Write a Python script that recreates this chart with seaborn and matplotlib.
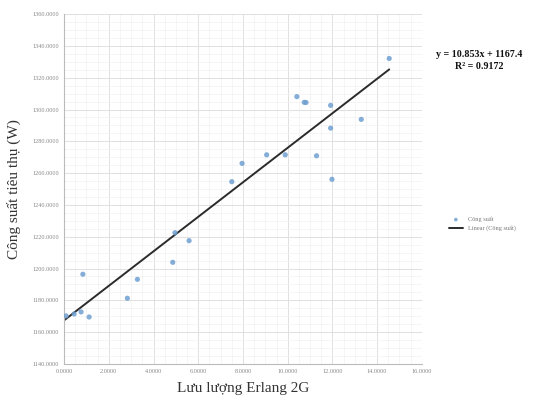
import numpy as np
import matplotlib
matplotlib.use("Agg")
import matplotlib.pyplot as plt
import pandas as pd
import seaborn as sns
from matplotlib.ticker import MultipleLocator, FormatStrFormatter

# values
erlang = [0.09, 0.45, 0.76, 1.12, 0.84, 2.83, 3.28, 4.86, 4.96, 5.59, 7.50, 7.96,
          9.06, 9.89, 11.29, 11.98, 11.92, 11.92, 13.29, 10.41, 10.74, 10.82, 14.54]
power = [1170.2, 1171.4, 1172.7, 1169.5, 1196.4, 1181.3, 1193.2, 1203.9, 1222.5,
         1217.5, 1254.6, 1266.1, 1271.5, 1271.5, 1270.9, 1256.1, 1288.3, 1302.6,
         1293.8, 1308.1, 1304.5, 1304.4, 1332.1]
slope, intercept, r2 = 10.853, 1167.4, 0.9172

df = pd.DataFrame({"x": erlang, "y": power})

sns.set_style("white")
plt.rcParams['font.family'] = ['Liberation Serif', 'DejaVu Serif']

fig = plt.figure(figsize=(5.34, 4.03), dpi=100)
ax = fig.add_axes([0.12, 0.097, 0.67, 0.868])

sns.scatterplot(data=df, x="x", y="y", ax=ax, color="#6f9fd0", s=14,
                edgecolor="none", alpha=0.85, label="Công suất", zorder=3)
# trendline from Excel coefficients, over the data range
xl = np.array([0.0, max(erlang)])
ax.plot(xl, slope * xl + intercept, color="#2b2b2b", lw=1.4,
        label="Linear (Công suất)", zorder=2)

ax.set_xlim(0, 16)
ax.set_ylim(1140, 1360)
ax.xaxis.set_major_locator(MultipleLocator(2))
ax.yaxis.set_major_locator(MultipleLocator(20))
ax.xaxis.set_minor_locator(MultipleLocator(0.5))
ax.yaxis.set_minor_locator(MultipleLocator(5))
ax.xaxis.set_major_formatter(FormatStrFormatter("%.4f"))
ax.yaxis.set_major_formatter(FormatStrFormatter("%.4f"))
ax.grid(which="major", color="#e0e0e0", lw=0.7)
ax.grid(which="minor", color="#f2f2f2", lw=0.5)
ax.tick_params(axis="both", labelsize=4.5, colors="#888888", length=0)
for s in ["top", "right"]:
    ax.spines[s].set_visible(False)
for s in ["left", "bottom"]:
    ax.spines[s].set_color("#bbbbbb")
    ax.spines[s].set_linewidth(0.8)

ax.set_xlabel("Lưu lượng Erlang 2G", fontsize=11, color="#333333", labelpad=6)
ax.set_ylabel("Công suất tiêu thụ (W)", fontsize=11, color="#333333", labelpad=8)

fig.text(0.898, 0.85, f"y = {slope}x + {intercept}\nR² = {r2}", ha="center",
         va="center", fontsize=7.2, fontweight="bold", color="#111111",
         linespacing=1.5)

leg = ax.legend(loc="center left", bbox_to_anchor=(1.06, 0.4), fontsize=4.5,
                frameon=False, handlelength=2.2, markerscale=0.7)
for t in leg.get_texts():
    t.set_color("#777777")

fig.savefig("out.png", dpi=100)
